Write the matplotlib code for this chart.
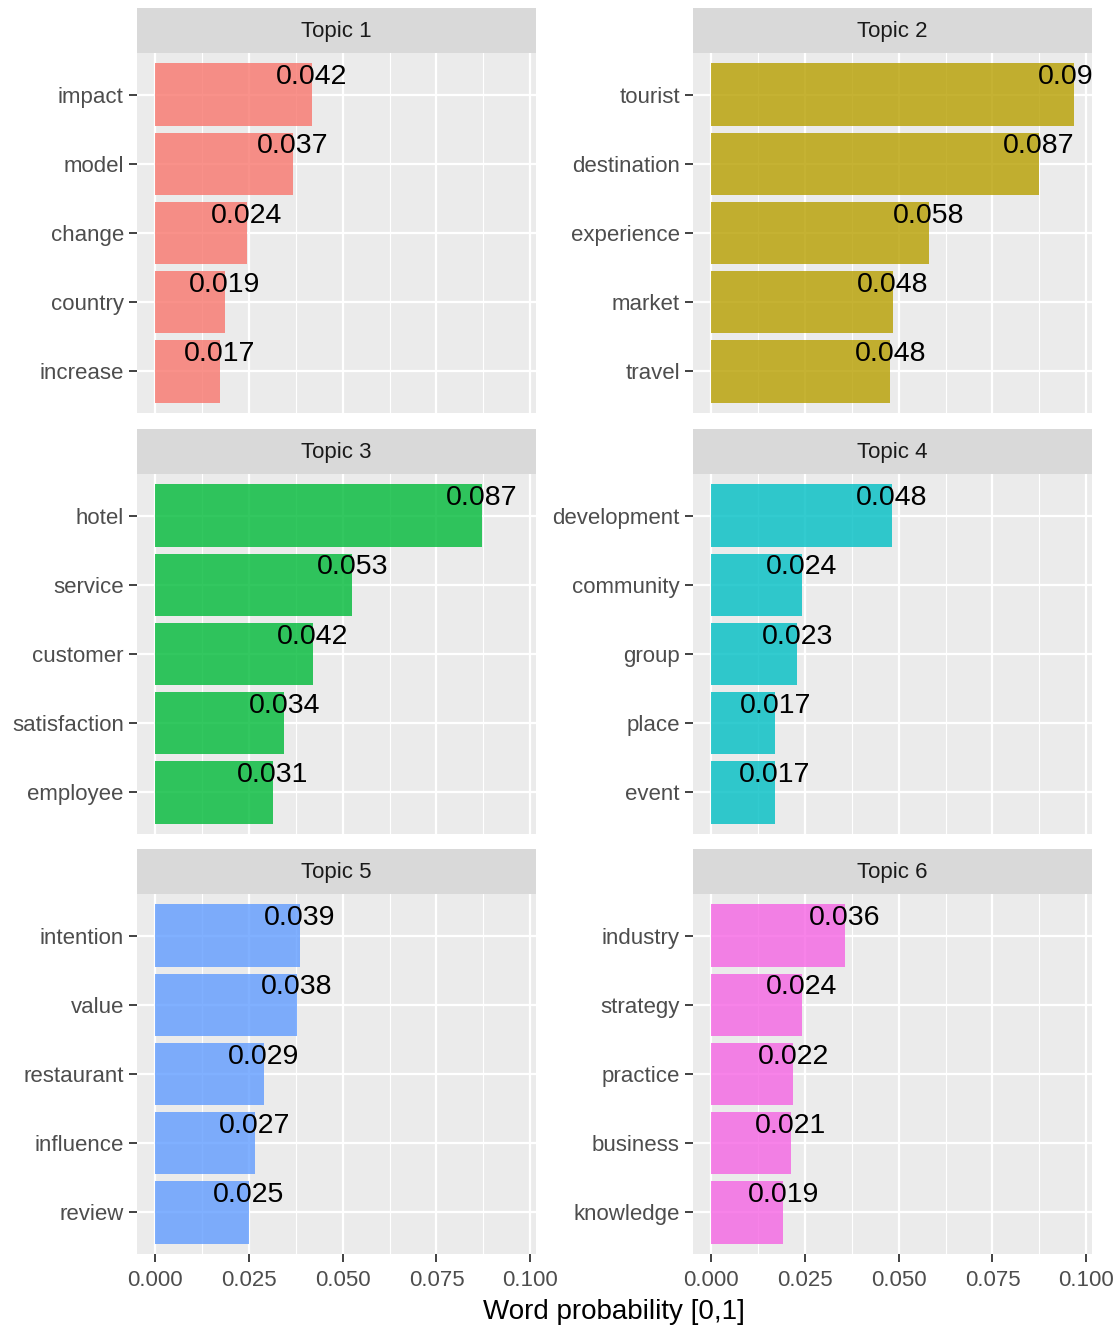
import numpy as np
import matplotlib.pyplot as plt
from matplotlib.ticker import FormatStrFormatter

plt.rcParams['font.family'] = ['Liberation Sans', 'DejaVu Sans']

# top words per topic, highest first
topics = ['Topic 1', 'Topic 2', 'Topic 3', 'Topic 4', 'Topic 5', 'Topic 6']
terms_1 = ['impact', 'model', 'change', 'country', 'increase']
probs_1 = [0.0418, 0.0367, 0.0244, 0.0186, 0.0173]
terms_2 = ['tourist', 'destination', 'experience', 'market', 'travel']
probs_2 = [0.0967, 0.0873, 0.0580, 0.0484, 0.0478]
terms_3 = ['hotel', 'service', 'customer', 'satisfaction', 'employee']
probs_3 = [0.0871, 0.0526, 0.0420, 0.0344, 0.0313]
terms_4 = ['development', 'community', 'group', 'place', 'event']
probs_4 = [0.0482, 0.0241, 0.0230, 0.0171, 0.0170]
terms_5 = ['intention', 'value', 'restaurant', 'influence', 'review']
probs_5 = [0.0386, 0.0378, 0.0289, 0.0266, 0.0249]
terms_6 = ['industry', 'strategy', 'practice', 'business', 'knowledge']
probs_6 = [0.0356, 0.0241, 0.0219, 0.0212, 0.0192]

all_terms = [terms_1, terms_2, terms_3, terms_4, terms_5, terms_6]
all_probs = [probs_1, probs_2, probs_3, probs_4, probs_5, probs_6]
colors = ['#F8766D', '#B79F00', '#00BA38', '#00BFC4', '#619CFF', '#F564E3']
xticks = [0.0, 0.025, 0.05, 0.075, 0.1]

W, H = 1119, 1331
fig = plt.figure(figsize=(W / 100, H / 100), dpi=100)


def rect(x0, y0, w, h):
    # pixel box (top-left origin) -> figure fraction
    return [x0 / W, 1 - (y0 + h) / H, w / W, h / H]


col_x = [137, 693]
row_y = [53, 474, 894]
pw, ph, sh = 399, 360, 45

xmax = max(max(p) for p in all_probs)
xlim = (-0.05 * xmax, 1.05 * xmax)

for i in range(6):
    r, c = divmod(i, 2)
    x0, y0 = col_x[c], row_y[r]

    # strip
    sax = fig.add_axes(rect(x0, y0 - sh, pw, sh))
    sax.set_facecolor('#D9D9D9')
    sax.set_xticks([])
    sax.set_yticks([])
    for s in sax.spines.values():
        s.set_visible(False)
    sax.text(0.5, 0.47, topics[i], ha='center', va='center', fontsize=16,
             color='#1A1A1A', transform=sax.transAxes)

    ax = fig.add_axes(rect(x0, y0, pw, ph))
    ax.set_facecolor('#EBEBEB')
    for s in ax.spines.values():
        s.set_visible(False)

    terms = all_terms[i]
    probs = all_probs[i]
    ypos = np.arange(len(terms), 0, -1)
    ax.barh(ypos, probs, height=0.9, color=colors[i], alpha=0.8, zorder=2)
    for y, v in zip(ypos, probs):
        ax.text(v, y + 0.15, '%.3f' % v, ha='center', va='baseline',
                fontsize=20.5, color='black', clip_on=True, zorder=3)

    ax.set_xlim(*xlim)
    ax.set_ylim(0.4, len(terms) + 0.6)
    ax.set_yticks(ypos)
    ax.set_yticklabels(terms)
    ax.set_xticks(xticks)
    ax.set_xticks([0.0125, 0.0375, 0.0625, 0.0875], minor=True)
    ax.xaxis.set_major_formatter(FormatStrFormatter('%.3f'))
    ax.grid(which='major', color='white', linewidth=1.6, zorder=0)
    ax.grid(which='minor', axis='x', color='white', linewidth=0.8, zorder=0)
    ax.set_axisbelow(True)
    ax.tick_params(axis='y', length=5.5, width=1.3, color='#333333', pad=4,
                   labelsize=16, labelcolor='#4D4D4D')
    ax.tick_params(axis='x', which='minor', length=0)
    if r == 2:
        ax.tick_params(axis='x', which='major', length=5.5, width=1.3,
                       color='#333333', pad=6, labelsize=16,
                       labelcolor='#4D4D4D')
    else:
        ax.tick_params(axis='x', which='major', length=0, labelbottom=False)

fig.text(614 / W, 1 - 1312 / H, 'Word probability [0,1]', ha='center',
         va='center', fontsize=20, color='black')

fig.savefig('out.png', dpi=100)
